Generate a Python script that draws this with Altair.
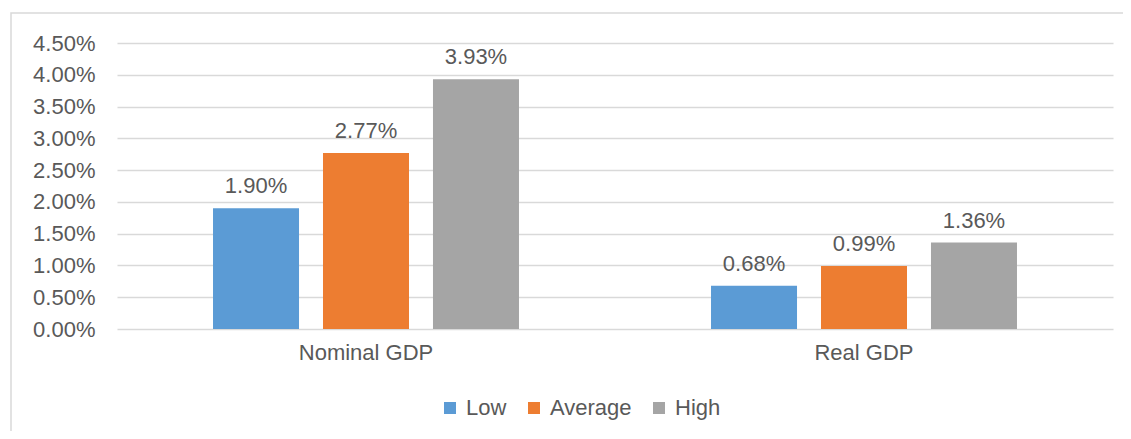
import altair as alt
import pandas as pd

categories = ["Nominal GDP", "Real GDP"]
series = ["Low", "Average", "High"]
low = [0.0190, 0.0068]
average = [0.0277, 0.0099]
high = [0.0393, 0.0136]
colors = ["#5B9BD5", "#ED7D31", "#A5A5A5"]
y_ticks = [0.0, 0.005, 0.01, 0.015, 0.02, 0.025, 0.03, 0.035, 0.04, 0.045]

rows = []
for i, c in enumerate(categories):
    for s, vals in zip(series, [low, average, high]):
        rows.append({"category": c, "series": s, "value": vals[i]})
df = pd.DataFrame(rows)

FONT = "Liberation Sans"
TXT = "#595959"
FS = 22

base = alt.Chart(df).encode(
    x=alt.X("category:N", sort=categories, title=None,
            scale=alt.Scale(paddingInner=0, paddingOuter=0),
            axis=alt.Axis(labelAngle=0, domain=False, ticks=False, labelPadding=13,
                          labelFontSize=FS, labelColor=TXT, labelFont=FONT)),
    xOffset=alt.XOffset("series:N", sort=series,
                        scale=alt.Scale(paddingInner=0.218, paddingOuter=0.873)),
    y=alt.Y("value:Q", title=None,
            scale=alt.Scale(domain=[0, 0.045], nice=False),
            axis=alt.Axis(values=y_ticks, format=".2%", domain=False, ticks=False,
                          labelOverlap=False, labelPadding=22, labelFontSize=FS,
                          labelColor=TXT, labelFont=FONT,
                          gridColor="#d9d9d9", gridWidth=1.5)),
)

bars = base.mark_bar().encode(
    color=alt.Color("series:N", sort=series,
                    scale=alt.Scale(domain=series, range=colors),
                    legend=alt.Legend(title=None, orient="none", direction="horizontal",
                                      legendX=322, legendY=354,
                                      symbolType="square", symbolSize=144,
                                      symbolStrokeWidth=0, labelFontSize=FS,
                                      labelColor=TXT, labelFont=FONT, labelOffset=5,
                                      columnPadding=16)),
)

labels = base.mark_text(baseline="alphabetic", dy=-15, fontSize=FS, color=TXT, font=FONT).encode(
    text=alt.Text("value:Q", format=".2%"),
)

border = alt.Chart(pd.DataFrame({"a": [0]})).mark_rect(
    filled=False, stroke="#d9d9d9", strokeWidth=1.5
).encode(
    x=alt.value(-106), x2=alt.value(1200), y=alt.value(-30), y2=alt.value(600)
)

chart = alt.layer(border, bars, labels).properties(
    width=996, height=286,
    autosize=alt.AutoSizeParams(type="none"),
    padding={"left": 109, "top": 35, "right": 10, "bottom": 102},
).configure_view(stroke=None)

chart.save("out.html", embed_options={"renderer": "svg", "actions": False})
